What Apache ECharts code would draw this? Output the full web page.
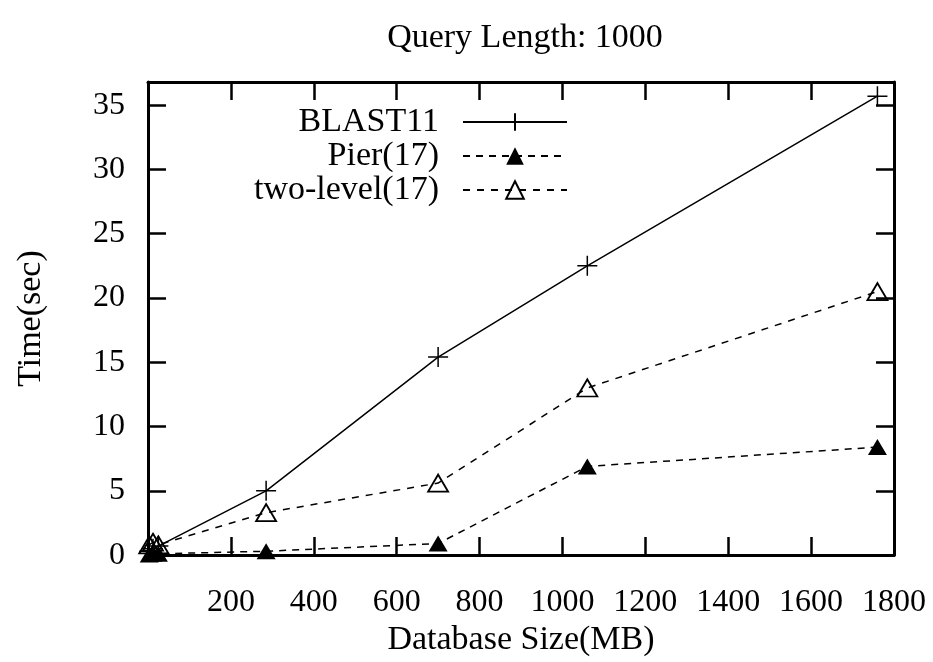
<!DOCTYPE html>
<html>
<head>
<meta charset="utf-8">
<script src="https://cdn.jsdelivr.net/npm/echarts@6/dist/echarts.min.js"></script>
<style>
  html, body { margin: 0; padding: 0; background: #fff; }
  #chart { width: 933px; height: 662px; }
</style>
</head>
<body>
<div id="chart"></div>
<script>
// Database sizes (MB) on the x axis
const dbSizes = [3, 12, 25, 285, 700, 1060, 1760];
// Query time in seconds for each method
const blast11 = [0.3, 0.5, 0.7, 5.0, 15.4, 22.5, 35.7];
const pier17 = [0.05, 0.1, 0.1, 0.3, 0.9, 6.9, 8.4];
const twoLevel17 = [0.8, 1.0, 0.8, 3.3, 5.6, 13.0, 20.5];
const seriesNames = ['BLAST11', 'Pier(17)', 'two-level(17)'];
const xTickValues = [200, 400, 600, 800, 1000, 1200, 1400, 1600, 1800];

const FONT = 'Liberation Serif';
const TEXT_SIZE = 34;
const TICK_SIZE = 32;
const pairs = (ys) => dbSizes.map((x, i) => [x, ys[i]]);

const plusSymbol = 'path://M10,0 L10,20 M0,10 L20,10';

// shared look of the frame axes: thick black line, long inward ticks
const baseAxis = {
  axisLine: { show: true, onZero: false, lineStyle: { color: '#000', width: 3 } },
  axisTick: { show: true, inside: true, length: 18, lineStyle: { color: '#000', width: 2.5 } },
  splitLine: { show: false }
};

const chart = echarts.init(document.getElementById('chart'), null, { renderer: 'canvas' });

// one legend per series so the samples line up on the right
const legendCommon = {
  orient: 'vertical',
  align: 'right',
  right: 365,
  padding: 0,
  itemWidth: 104,
  itemHeight: 22,
  textStyle: { fontFamily: FONT, fontSize: TEXT_SIZE, color: '#000', padding: [0, 19, 0, 0] },
  selectedMode: false
};

chart.setOption({
  animation: false,
  backgroundColor: '#fff',
  title: {
    text: 'Query Length: 1000',
    left: 520,
    top: 16,
    textAlign: 'center',
    textStyle: { fontFamily: FONT, fontSize: TEXT_SIZE, fontWeight: 'normal', color: '#000' }
  },
  legend: [
    Object.assign({}, legendCommon, { top: 105, data: [seriesNames[0]] }),
    Object.assign({}, legendCommon, { top: 139, data: [seriesNames[1]] }),
    Object.assign({}, legendCommon, { top: 173, data: [seriesNames[2]] })
  ],
  grid: { left: 148, right: 39, top: 82, bottom: 104, show: false },
  xAxis: [
    Object.assign({}, baseAxis, {
      type: 'value',
      min: 0, max: 1800, interval: 200,
      position: 'bottom',
      name: 'Database Size(MB)',
      nameLocation: 'middle',
      nameGap: 46,
      nameTextStyle: { fontFamily: FONT, fontSize: TEXT_SIZE, color: '#000' },
      axisLabel: {
        margin: 31,
        fontFamily: FONT, fontSize: TICK_SIZE, color: '#000',
        showMinLabel: false,
        formatter: (v) => (xTickValues.indexOf(v) >= 0 ? String(v) : '')
      }
    }),
    Object.assign({}, baseAxis, {
      type: 'value',
      min: 0, max: 1800, interval: 200,
      position: 'top',
      axisLabel: { show: false }
    })
  ],
  yAxis: [
    Object.assign({}, baseAxis, {
      type: 'value',
      min: 0, max: 36.8, interval: 5,
      position: 'left',
      name: 'Time(sec)',
      nameLocation: 'middle',
      nameGap: 100,
      nameTextStyle: { fontFamily: FONT, fontSize: TEXT_SIZE, color: '#000' },
      axisLabel: {
        margin: 23,
        fontFamily: FONT, fontSize: TICK_SIZE, color: '#000',
        showMaxLabel: false
      }
    }),
    Object.assign({}, baseAxis, {
      type: 'value',
      min: 0, max: 36.8, interval: 5,
      position: 'right',
      axisLabel: { show: false }
    })
  ],
  series: [
    {
      name: seriesNames[0],
      type: 'line',
      data: pairs(blast11),
      symbol: plusSymbol,
      symbolSize: 20,
      lineStyle: { color: '#000', width: 1.5, type: 'solid' },
      itemStyle: { color: 'rgba(0,0,0,0)', borderColor: '#000', borderWidth: 1.5 },
      emphasis: { disabled: true },
      z: 3
    },
    {
      name: seriesNames[1],
      type: 'line',
      data: pairs(pier17),
      symbol: 'triangle',
      symbolSize: [19, 16],
      lineStyle: { color: '#000', width: 1.5, type: [7, 6] },
      itemStyle: { color: '#000', borderColor: '#000', borderWidth: 0 },
      emphasis: { disabled: true },
      z: 3
    },
    {
      name: seriesNames[2],
      type: 'line',
      data: pairs(twoLevel17),
      symbol: 'triangle',
      symbolSize: [20, 17],
      lineStyle: { color: '#000', width: 1.5, type: [7, 7] },
      itemStyle: { color: 'rgba(255,255,255,0)', borderColor: '#000', borderWidth: 1.8 },
      emphasis: { disabled: true },
      z: 3
    }
  ]
});
</script>
</body>
</html>
